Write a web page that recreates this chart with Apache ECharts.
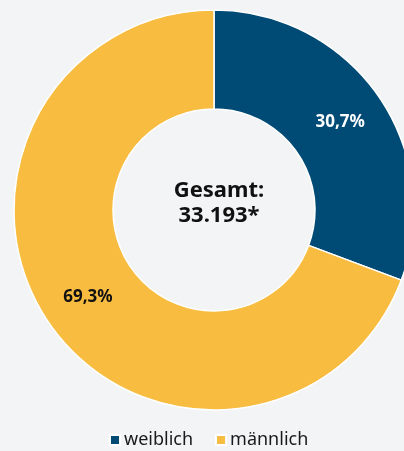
<!DOCTYPE html>
<html>
<head>
<meta charset="utf-8">
<script src="https://cdn.jsdelivr.net/npm/echarts@6/dist/echarts.min.js"></script>
<style>
html,body{margin:0;padding:0;background:#f3f4f6;}
#chart{width:404px;height:451px;}
</style>
</head>
<body>
<div id="chart"></div>
<script>
// Anteile nach Geschlecht
var categories = ['weiblich', 'männlich'];
var shares = [30.7, 69.3];
var labels = ['30,7%', '69,3%'];
var total = '33.193*';

var colors = ['#004b76', '#f7bc40'];
var labelColors = ['#ffffff', '#111111'];

var chart = echarts.init(document.getElementById('chart'));

var data = categories.map(function (c, i) {
	return {
		name: c,
		value: shares[i],
		label: { color: labelColors[i] }
	};
});

chart.setOption({
	backgroundColor: '#f3f4f6',
	color: colors,
	animation: false,
	textStyle: { fontFamily: 'Noto Sans' },
	title: {
		text: 'Gesamt:\n' + total,
		left: 214,
		top: 198,
		textAlign: 'center',
		textVerticalAlign: 'middle',
		textStyle: {
			fontSize: 22,
			fontWeight: 'bold',
			color: '#111111',
			lineHeight: 25,
			fontFamily: 'Noto Sans'
		}
	},
	legend: {
		top: 426,
		left: 104,
		itemWidth: 10,
		itemHeight: 10,
		itemGap: 22,
		icon: 'rect',
		textStyle: { fontSize: 18, color: '#1a1a1a', fontFamily: 'Noto Sans', padding: [0, 0, 0, -1] },
		data: categories
	},
	series: [{
		type: 'pie',
		center: [214, 210],
		radius: [101, 200],
		startAngle: 90,
		clockwise: true,
		itemStyle: { borderColor: '#ffffff', borderWidth: 1.5 },
		label: {
			show: true,
			position: 'inside',
			fontSize: 17,
			fontWeight: 'bold',
			fontFamily: 'Noto Sans',
			formatter: function (p) { return labels[p.dataIndex]; }
		},
		labelLine: { show: false },
		emphasis: { disabled: true },
		data: data
	}]
});
</script>
</body>
</html>
